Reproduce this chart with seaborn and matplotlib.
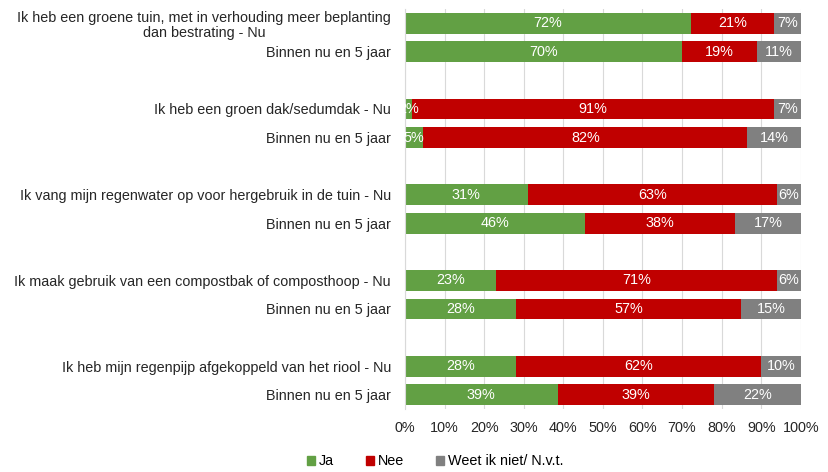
import matplotlib
matplotlib.use("Agg")
import matplotlib.pyplot as plt
import seaborn as sns
import pandas as pd
from matplotlib.patches import Patch

# rows from top to bottom, spacers between groups are empty slots
row_labels = [
    "Ik heb een groene tuin, met in verhouding meer beplanting\ndan bestrating - Nu",
    "Binnen nu en 5 jaar",
    "Ik heb een groen dak/sedumdak - Nu",
    "Binnen nu en 5 jaar",
    "Ik vang mijn regenwater op voor hergebruik in de tuin - Nu",
    "Binnen nu en 5 jaar",
    "Ik maak gebruik van een compostbak of composthoop - Nu",
    "Binnen nu en 5 jaar",
    "Ik heb mijn regenpijp afgekoppeld van het riool - Nu",
    "Binnen nu en 5 jaar",
]
ja = [72.3, 70.0, 1.8, 4.6, 31.0, 45.6, 23.0, 28.0, 28.0, 38.6]
nee = [21.0, 19.0, 91.4, 81.9, 63.0, 37.8, 71.0, 57.0, 62.0, 39.4]
weet = [6.7, 11.0, 6.8, 13.5, 6.0, 16.6, 6.0, 15.0, 10.0, 22.0]
series_names = ["Ja", "Nee", "Weet ik niet/ N.v.t."]
colors = ["#62A044", "#C00000", "#808080"]

ids = [f"r{i}" for i in range(len(row_labels))]
order = []
for i, rid in enumerate(ids):
    order.append(rid)
    if i % 2 == 1 and i < len(ids) - 1:
        order.append(f"gap{i}")

df = pd.DataFrame({"id": ids, "Ja": ja, "Nee": nee, "Weet": weet})
df["c1"] = df["Ja"]
df["c2"] = df["Ja"] + df["Nee"]
df["c3"] = df["c2"] + df["Weet"]

plt.rcParams["font.family"] = ["Liberation Sans", "DejaVu Sans"]
fs = 10.4
fig = plt.figure(figsize=(8.29, 4.72), dpi=100)
ax = fig.add_axes([0.4885, 0.1335, 0.4775, 0.8475])

# draw cumulative bars back to front
for col, c in zip(["c3", "c2", "c1"], colors[::-1]):
    sns.barplot(data=df, x=col, y="id", order=order, color=c, width=0.73,
                orient="h", ax=ax, saturation=1, linewidth=0)

# value labels in the middle of each segment
for _, r in df.iterrows():
    y = order.index(r["id"])
    left = 0
    for v in [r["Ja"], r["Nee"], r["Weet"]]:
        ax.text(left + v / 2, y, f"{v:.0f}%", ha="center", va="center",
                color="white", fontsize=fs)
        left += v

ax.set_xlim(0, 100)
ax.set_xticks(range(0, 101, 10))
ax.set_xticklabels([f"{t}%" for t in range(0, 101, 10)], fontsize=fs, color="#262626")
yt = [order.index(i) for i in ids]
ax.set_yticks(yt)
ax.set_yticklabels(row_labels, fontsize=fs, color="#262626",
                   multialignment="center", linespacing=1.1)
ax.set_ylim(len(order) - 0.5, -0.5)
ax.set_xlabel("")
ax.set_ylabel("")
ax.tick_params(axis="x", length=0, pad=9)
ax.tick_params(axis="y", length=0, pad=10)
ax.grid(axis="x", color="#D9D9D9", linewidth=0.8)
ax.set_axisbelow(True)
for s in ["top", "right", "bottom"]:
    ax.spines[s].set_visible(False)
ax.spines["left"].set_color("#D9D9D9")

handles = [Patch(color=c, label=n) for c, n in zip(colors, series_names)]
fig.legend(handles=handles, loc="lower center", bbox_to_anchor=(0.525, -0.02), ncol=3,
           frameon=False, fontsize=fs, handlelength=0.55, handleheight=0.55,
           handletextpad=0.3, columnspacing=2.2)

fig.savefig("out.png", dpi=100)
